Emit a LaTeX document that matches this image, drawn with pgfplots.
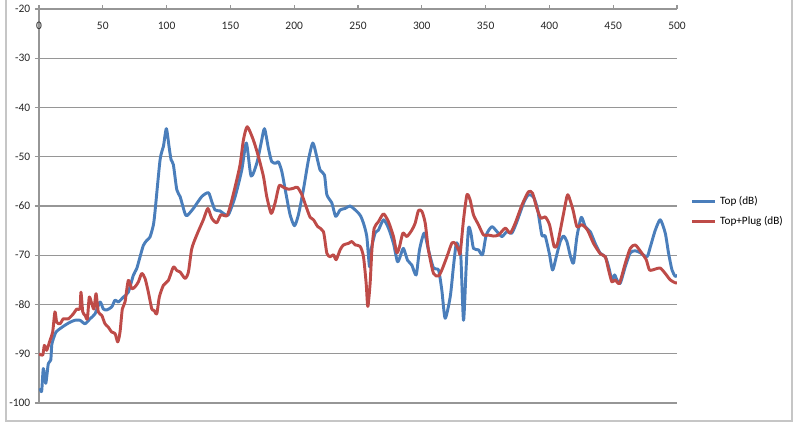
\documentclass[border=0pt]{standalone}
\usepackage{fontspec}
\setmainfont{Carlito}
\usepackage{pgfplots}
\pgfplotsset{compat=1.18}
\definecolor{topblue}{RGB}{74,126,187}
\definecolor{plugred}{RGB}{190,75,72}
\definecolor{gridgray}{RGB}{150,150,150}

\begin{document}
\begin{tikzpicture}
  % whole chart area: 800x425 px at 0.75pt per px, axis lower-left at px (39,403)
  \path[use as bounding box] (-29.25pt,-16.5pt) rectangle (570.75pt,302.25pt);
  \draw[gray!45, line width=1.4pt] (-24.75pt,302.25pt) -- (-24.75pt,-13.5pt) -- (564.75pt,-13.5pt) -- (564.75pt,302.25pt);
  \begin{axis}[
    at={(0,0)}, anchor=south west,
    scale only axis,
    width=478.5pt, height=295.5pt,
    xmin=0, xmax=500, ymin=-100, ymax=-20,
    xtick distance=50, ytick distance=10,
    axis x line*=top, axis y line*=left,
    axis line style={gridgray, line width=0.8pt},
    tick align=outside,
    major tick length=3pt,
    tick style={gridgray, line width=0.8pt},
    ymajorgrids=true,
    grid style={gridgray, line width=0.8pt},
    tick label style={font=\fontsize{8.6}{10}\selectfont, text=black!85},
    /pgf/number format/assume math mode=true,
    xticklabel style={anchor=north, yshift=-9pt},
    legend style={at={(1.015,0.486)}, anchor=west, draw=none, fill=none,
      font=\fontsize{8.4}{10}\selectfont, row sep=3pt,
      /tikz/every odd column/.append style={column sep=1pt}},
    legend cell align=left,
    legend image code/.code={\draw[#1, line width=2pt] (0pt,0pt) -- (17pt,0pt);},
    clip=true,
  ]
    \addplot[topblue, line width=2.2pt, smooth, tension=0.4, line join=round] coordinates {
      (0.8,-97)(2.1,-97.6)(3.4,-93)(5.3,-96)(7.3,-92)(9.2,-91.3)(10,-88.2)(11.2,-87)
      (13.3,-85.6)(16.5,-84.9)(20.4,-84.2)(24.3,-83.6)(28.2,-83.2)(32.1,-83.2)(36.1,-83.9)
      (40,-82.9)(43.9,-81.9)(47.8,-79.5)(50.4,-80.9)(53.1,-81.1)(57,-80.5)(59.6,-79.1)
      (62.2,-79.5)(66.1,-78.5)(70,-77.5)(73.9,-74.1)(76.6,-72.7)(79.2,-70.3)(81.8,-68)
      (84.4,-67)(87,-66.3)(89.6,-63.9)(90.9,-61.2)(94.9,-50.6)(97.5,-47.9)(99.8,-44.3)
      (101.9,-47.9)(103.5,-50.6)(105.3,-51.6)(108,-56.7)(110.6,-58.1)(114,-61.2)(115.8,-62)
      (121,-60.5)(127.5,-58.1)(132.8,-57.3)(135.4,-59.1)(138,-60.8)(141.9,-61)(144.5,-61.5)
      (148.4,-61.8)(153.7,-58.1)(158.9,-52.7)(162.5,-47.2)(166.2,-53.9)(170.7,-51.3)
      (174.1,-47.2)(176.7,-44.3)(179.8,-48.3)(182.4,-51)(185.8,-51.3)(187.6,-51)(190.3,-53)
      (193.7,-57.7)(196.8,-61.8)(200.2,-64)(203.3,-61.8)(207.2,-56.7)(211.2,-50.6)
      (214.6,-47.2)(217.7,-50)(220.3,-52.7)(223.7,-53.7)(225.6,-57.7)(229.5,-59.4)
      (232.5,-62.1)(236,-60.8)(239.9,-60.5)(243.8,-60)(249.1,-61.1)(252,-62)(254.3,-63.5)
      (256.9,-66.2)(259,-72.3)(260.3,-68.9)(263.4,-65.5)(266,-64.9)(270,-62.8)(273.9,-64.5)
      (277.8,-67.6)(280.9,-71.3)(283,-70.3)(285.6,-68.6)(288.8,-71)(292.2,-72)(295.6,-74)
      (298.2,-68.9)(301.9,-65.5)(305.2,-68.9)(309.2,-72.6)(313.1,-73)(315.7,-77.1)
      (318.3,-82.8)(322.3,-78.4)(324.8,-72.3)(327,-67.6)(328.8,-68.3)(330.6,-70.3)
      (332.7,-83.2)(334.8,-72.3)(336.6,-64.5)(338.5,-65.5)(340.5,-68.6)(344.4,-68.9)
      (347.6,-69.9)(350.5,-65.9)(354.9,-64.2)(358.9,-65.2)(362.8,-66.2)(366.7,-65.2)
      (370.6,-65.5)(374.5,-63.2)(379.8,-59.4)(383.6,-57.7)(387.6,-58.2)(390.7,-60.6)
      (394.1,-65.9)(396.7,-66.1)(399.9,-69.6)(402.5,-73)(405.4,-70.3)(408.5,-67.2)
      (411.1,-66.1)(413.7,-67.2)(416.3,-70)(418.9,-71.6)(421.6,-66.2)(425,-62.3)(428.1,-64.2)
      (432,-65.2)(435.9,-67.6)(439.9,-69.6)(443.8,-70.3)(446.4,-72.3)(449,-75)(451.1,-74)
      (452.9,-75)(455.5,-75.7)(459.5,-72.3)(463.4,-69.5)(467.3,-69.1)(471.2,-69.5)
      (476.5,-70.3)(479.1,-68.3)(483,-64.9)(486.9,-62.8)(490.8,-65.5)(493.4,-69.6)
      (496.1,-73)(498.7,-74.3)(500.5,-74)
    };
    \addlegendentry{Top (dB)}
    \addplot[plugred, line width=2.2pt, smooth, tension=0.4, line join=round] coordinates {
      (0,-90)(2.9,-90.3)(4.2,-88.3)(6,-89.3)(8.6,-87.3)(10.7,-85.6)(12.5,-81.5)(13.9,-83.6)
      (16.5,-83.9)(19.1,-82.9)(23,-82.9)(26.9,-81.9)(29.6,-80.9)(32.1,-80.9)(32.9,-77.5)
      (34.3,-81.5)(36.1,-82.2)(37.9,-82.9)(39.4,-78.5)(41.3,-79.8)(43.1,-80.9)(44.7,-77.8)
      (46.5,-81.5)(49.2,-82.2)(51.7,-83.9)(54.3,-84.6)(57,-85.6)(59.6,-85.9)(61.7,-87.6)
      (63.5,-85.6)(65.3,-80.9)(67.4,-79.5)(70,-75.1)(72.7,-76.8)(75.3,-76.4)(77.9,-75.4)
      (80.5,-73.7)(83.1,-74.7)(85.7,-77.5)(88.4,-80.9)(90.2,-81.2)(92.3,-81.9)(94.3,-78.5)
      (97.5,-76.1)(101.4,-75.1)(105.3,-72.4)(108,-73.1)(110.6,-73.4)(114.5,-74.7)
      (117.1,-73.4)(119.7,-68.7)(123.6,-65.9)(128.8,-62.8)(132.3,-60.5)(135.4,-62.5)
      (139.3,-63.4)(142.5,-61.8)(147.2,-62)(149.8,-60.1)(153.7,-56.1)(157.6,-51.6)
      (160.2,-46.6)(163.2,-43.9)(168,-46.6)(172,-50)(175.9,-54)(178.5,-58.1)(182,-61.5)
      (185,-59.4)(188.2,-55.9)(191.5,-56.2)(195.5,-56.6)(199.4,-56.4)(202.5,-56.2)(206,-57.7)
      (209.3,-60.1)(212.5,-62.3)(215.1,-62.8)(218.5,-64.2)(222.9,-65.2)(225.6,-69.6)
      (228.2,-70.3)(230.8,-69.9)(232.9,-70.9)(236,-68.9)(238.6,-67.9)(242.5,-67.6)
      (245.2,-67.2)(247.8,-67.9)(251.7,-68.2)(254.3,-70.3)(256.4,-75.7)(257.7,-80.4)
      (259.5,-75.7)(260.9,-68.9)(262.7,-64.5)(266,-63.2)(270,-61.6)(273.9,-63.2)(277.8,-66.2)
      (280.4,-69.5)(282.5,-68.3)(285.2,-65.5)(288.3,-66.2)(292.2,-64.9)(294.8,-63.5)
      (297.4,-60.9)(300.1,-61.1)(302.7,-63.5)(305.2,-68.9)(309.2,-73.7)(313.1,-74.2)
      (315.7,-73)(319.7,-70.3)(323.6,-67.5)(326.2,-67.6)(328.8,-68.9)(330.1,-69.6)
      (332.7,-62.8)(335.4,-57.7)(337.9,-58.8)(340.5,-61.8)(344.4,-63.8)(348.4,-65.9)
      (352.3,-65.9)(356.2,-66.1)(360.1,-65.9)(365.4,-64.5)(369.3,-65.5)(373.2,-63.5)
      (378.5,-59.8)(383.6,-57.1)(386.8,-57.4)(390.2,-60.5)(393.4,-62.5)(396.7,-62.2)
      (400.1,-63.8)(403.8,-68.3)(406.4,-67.6)(410.6,-62.2)(413.7,-58.1)(415,-57.9)
      (418.5,-60.8)(421.6,-64.2)(425.5,-63.8)(429.9,-64.9)(434.6,-67.6)(439.9,-69.7)
      (443.8,-70.3)(446.4,-73)(449,-75.4)(451.6,-75)(454.9,-75.7)(459.5,-71.6)(463.4,-68.6)
      (467.3,-67.9)(472.5,-69.6)(475.9,-70.9)(478.5,-73)(483,-72.8)(486.9,-72.6)
      (490.8,-73.7)(494.7,-75)(498.7,-75.6)(500.5,-75.6)
    };
    \addlegendentry{Top+Plug (dB)}
  \end{axis}
\end{tikzpicture}
\end{document}
